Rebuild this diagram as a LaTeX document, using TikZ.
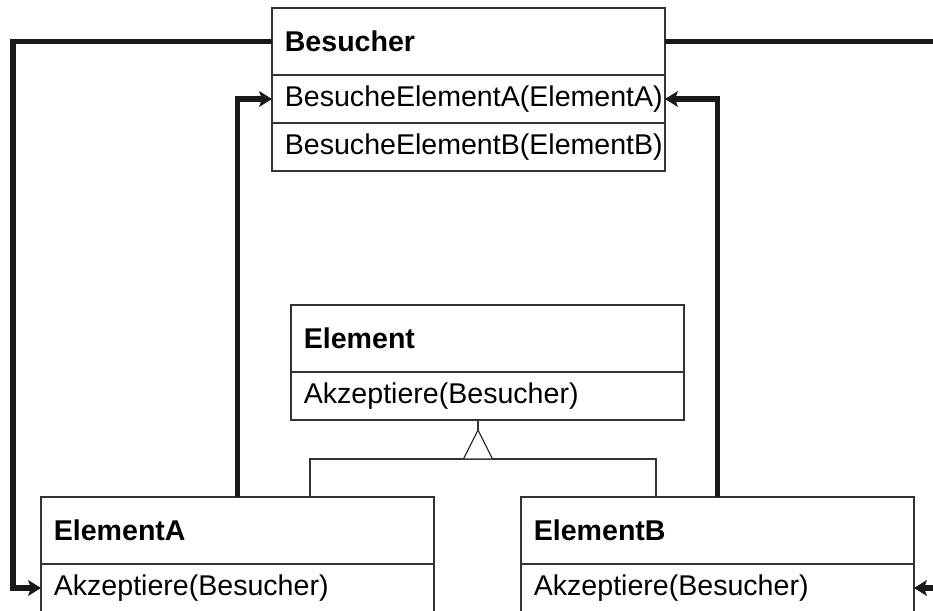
\documentclass[tikz,border=0pt]{standalone}
\usepackage{fontspec}
\setmainfont{Liberation Sans}
\usetikzlibrary{positioning, arrows.meta}

\tikzset{
  kopf/.style={draw=black!80, line width=0.4pt, anchor=north west, outer sep=0pt,
    text width=128.55pt, inner xsep=4.5pt, inner ysep=0pt, minimum height=23.45pt,
    align=left, font=\bfseries},
  methode/.style={kopf, font=\normalfont, minimum height=16.8pt},
  besuch/.style={line width=1.8pt, black!90, -{Stealth[length=4.5pt,width=5.5pt,inset=1pt]}},
  erbt/.style={draw=black!80, line width=0.4pt}
}

\begin{document}
\begin{tikzpicture}[x=0.35pt, y=0.35pt]
	\useasboundingbox (0,0) rectangle (933,610);
	\clip (0,0) rectangle (933,610);
	% Klassen
	\node[kopf] (besucher) at (272,602) {Besucher};
		\node[methode, below=0pt of besucher] (besA) {BesucheElementA(ElementA)};
		\node[methode, below=0pt of besA] (besB) {BesucheElementB(ElementB)};
	\node[kopf] (element) at (291,305) {Element};
		\node[methode, below=0pt of element] (elemAkz) {Akzeptiere(Besucher)};
	\node[kopf] (elemA) at (41,113) {ElementA};
		\node[methode, below=0pt of elemA] (akzA) {Akzeptiere(Besucher)};
	\node[kopf] (elemB) at (521,113) {ElementB};
		\node[methode, below=0pt of elemB] (akzB) {Akzeptiere(Besucher)};
	% Vererbung
	\coordinate (spitze) at (478,180);
	\coordinate (erbeL) at (310,151);
	\coordinate (erbeR) at (656,151);
	\draw[erbt] (elemAkz.south -| spitze) -- (spitze);
	\draw[erbt] (elemA.north -| erbeL) -- (erbeL) -- (erbeR) -- (elemB.north -| erbeR);
	\draw[erbt, fill=white] (spitze) -- ++(-14.5,-29) -- ++(29,0) -- cycle;
	% Besuche
	\draw[besuch] (besucher.west) -- ++(-259,0) |- (akzA.west);
	\draw[besuch] (besucher.east) -- ++(300,0) |- (akzB.east);
	\foreach \from/\to in {elemA.north/besA.west, elemB.north/besA.east}
		\draw[besuch] (\from) |- (\to);
\end{tikzpicture}
\end{document}
